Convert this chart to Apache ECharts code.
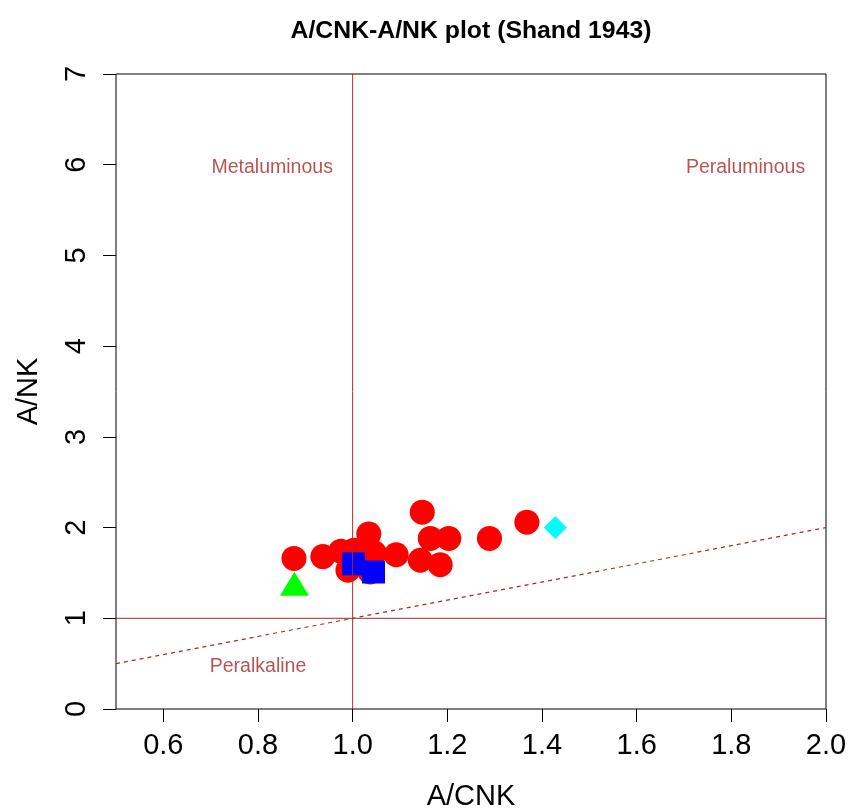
<!DOCTYPE html>
<html>
<head>
<meta charset="utf-8">
<title>A/CNK-A/NK plot (Shand 1943)</title>
<script src="https://cdn.jsdelivr.net/npm/echarts@6/dist/echarts.min.js"></script>
<style>
  html, body { margin: 0; padding: 0; background: #ffffff; }
  #chart { width: 848px; height: 810px; }
</style>
</head>
<body>
<div id="chart"></div>
<script>
// Axis ticks
const xTicks = [0.6, 0.8, 1.0, 1.2, 1.4, 1.6, 1.8, 2.0];
const yTicks = [0, 1, 2, 3, 4, 5, 6, 7];

// Samples: A/CNK (x) and A/NK (y), one pair of arrays per symbol group
const circleACNK = [0.876, 0.937, 0.975, 1.003, 0.990, 1.034, 1.046, 1.037, 1.092, 1.147, 1.164, 1.203, 1.143, 1.185, 1.289, 1.368];
const circleANK  = [1.66,  1.68,  1.74,  1.75,  1.53,  1.93,  1.72,  1.51,  1.70,  2.17,  1.88,  1.88,  1.64,  1.59,  1.88,  2.06];
const squareACNK = [1.002, 1.044];
const squareANK  = [1.60, 1.51];
const triangleACNK = [0.877];
const triangleANK  = [1.38];
const diamondACNK = [1.428];
const diamondANK  = [2.00];

// Field boundaries
const boundaryACNK = [1.0, 1.0];
const boundaryACNKRange = [0, 7];
const boundaryANK = [1.0, 1.0];
const boundaryANKRange = [0.5, 2.0];
const equalityLine = [0.5, 2.0]; // A/NK = A/CNK

// Field names
const fieldNames = ['Metaluminous', 'Peraluminous', 'Peralkaline'];
const fieldACNK = [0.83, 1.83, 0.80];
const fieldANK = [6.0, 6.0, 0.5];

const FONT = "'Liberation Sans', Arial, Helvetica, sans-serif";
const BROWN = '#A52A2A';

const zip = (xs, ys) => xs.map((x, i) => [x, ys[i]]);

const chart = echarts.init(document.getElementById('chart'), null, { renderer: 'canvas' });

const option = {
  backgroundColor: '#ffffff',
  animation: false,
  title: {
    text: 'A/CNK-A/NK plot (Shand 1943)',
    left: 466,
    textAlign: 'center',
    top: 14,
    textStyle: { fontFamily: FONT, fontSize: 24.8, fontWeight: 'bold', color: '#000000' }
  },
  grid: {
    left: 116, right: 22, top: 74, bottom: 101,
    outerBoundsMode: 'none',
    containLabel: false,
    show: true, borderColor: '#000000', borderWidth: 1, backgroundColor: 'transparent'
  },
  xAxis: {
    type: 'value',
    min: 0.5, max: 2.0,
    name: 'A/CNK',
    nameLocation: 'middle',
    nameGap: 73,
    nameTextStyle: { fontFamily: FONT, fontSize: 29, color: '#000000' },
    axisLine: { show: false },
    splitLine: { show: false },
    axisTick: { show: true, inside: false, length: 13, customValues: xTicks, lineStyle: { color: '#000000', width: 1 } },
    axisLabel: {
      customValues: xTicks,
      margin: 22,
      fontFamily: FONT, fontSize: 29, color: '#000000',
      formatter: v => v.toFixed(1)
    }
  },
  yAxis: {
    type: 'value',
    min: 0, max: 7, interval: 1,
    name: 'A/NK',
    nameLocation: 'middle',
    nameGap: 73,
    nameTextStyle: { fontFamily: FONT, fontSize: 29, color: '#000000' },
    axisLine: { show: false },
    splitLine: { show: false },
    axisTick: { show: true, inside: false, length: 13, customValues: yTicks, lineStyle: { color: '#000000', width: 1 } },
    axisLabel: {
      customValues: yTicks,
      rotate: 90,
      margin: 25,
      fontFamily: FONT, fontSize: 29, color: '#000000',
      formatter: v => String(v)
    }
  },
  series: [
    {
      name: 'A/CNK = 1', type: 'line', symbol: 'none', silent: true,
      data: zip(boundaryACNK, boundaryACNKRange),
      lineStyle: { color: BROWN, width: 1 }
    },
    {
      name: 'A/NK = 1', type: 'line', symbol: 'none', silent: true,
      data: zip(boundaryANKRange, boundaryANK),
      lineStyle: { color: BROWN, width: 1 }
    },
    {
      name: 'A/NK = A/CNK', type: 'line', symbol: 'none', silent: true,
      data: zip(equalityLine, equalityLine),
      lineStyle: { color: BROWN, width: 1.2, type: [4, 4] }
    },
    {
      name: 'fields', type: 'scatter', symbolSize: 0, silent: true,
      data: fieldNames.map((n, i) => ({ value: [fieldACNK[i], fieldANK[i]], name: n })),
      label: {
        show: true, position: 'inside', offset: [0, 3], formatter: p => p.name,
        fontFamily: FONT, fontSize: 19.5, color: BROWN
      }
    },
    {
      name: 'circles', type: 'scatter', symbol: 'circle', symbolSize: 25,
      data: zip(circleACNK, circleANK),
      itemStyle: { color: '#FF0000', opacity: 1 }
    },
    {
      name: 'squares', type: 'scatter', symbol: 'rect', symbolSize: 23,
      data: zip(squareACNK, squareANK),
      itemStyle: { color: '#0000FF', opacity: 1 }
    },
    {
      name: 'triangles', type: 'scatter', symbol: 'triangle', symbolSize: [29, 24],
      data: zip(triangleACNK, triangleANK),
      itemStyle: { color: '#00FF00', opacity: 1 }
    },
    {
      name: 'diamonds', type: 'scatter', symbol: 'diamond', symbolSize: 23,
      data: zip(diamondACNK, diamondANK),
      itemStyle: { color: '#00FFFF', opacity: 1 }
    }
  ]
};

chart.setOption(option);
</script>
</body>
</html>
